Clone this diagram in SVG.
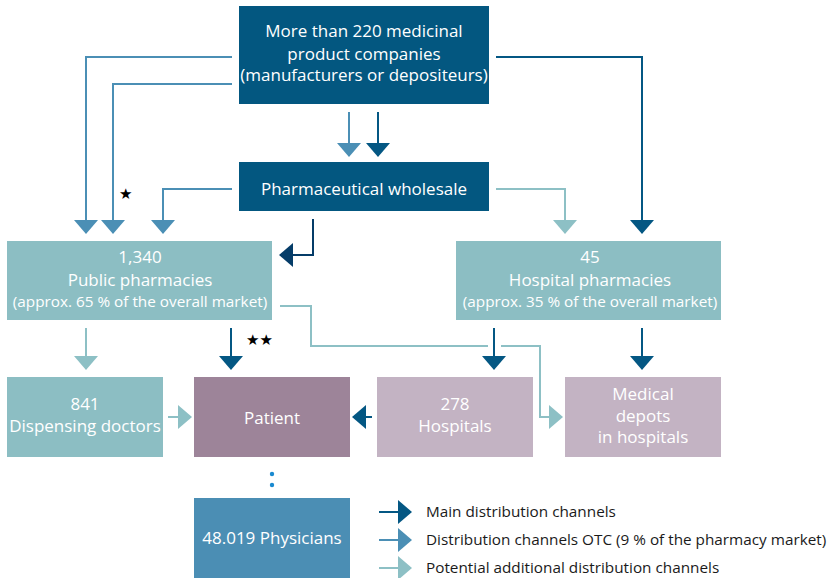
<svg xmlns="http://www.w3.org/2000/svg" width="830" height="578" viewBox="0 0 830 578">
<defs>
<style>
.t{font-family:"Open Sans","Liberation Sans",sans-serif;fill:#fff;text-anchor:middle;font-size:17px}
.s{font-size:15.3px}
.lg{font-family:"Open Sans","Liberation Sans",sans-serif;fill:#1a1a1a;font-size:15.3px}
.main{stroke:#045783;fill:none;stroke-width:2}
.otc{stroke:#4b8fb5;fill:none;stroke-width:2}
.pot{stroke:#8dc0c5;fill:none;stroke-width:2}
</style>
<marker id="hm" viewBox="0 0 14 24" refX="13" refY="12" markerWidth="14" markerHeight="24" markerUnits="userSpaceOnUse" orient="auto"><path d="M0,0L14,12L0,24Z" fill="#045783"/></marker>
<marker id="ho" viewBox="0 0 14 24" refX="13" refY="12" markerWidth="14" markerHeight="24" markerUnits="userSpaceOnUse" orient="auto"><path d="M0,0L14,12L0,24Z" fill="#4b8fb5"/></marker>
<marker id="hp" viewBox="0 0 14 24" refX="13" refY="12" markerWidth="14" markerHeight="24" markerUnits="userSpaceOnUse" orient="auto"><path d="M0,0L14,12L0,24Z" fill="#8dc0c5"/></marker>
<marker id="hn" viewBox="0 0 14 24" refX="13" refY="12" markerWidth="14" markerHeight="24" markerUnits="userSpaceOnUse" orient="auto"><path d="M0,0L14,12L0,24Z" fill="#053c68"/></marker>
</defs>
<rect width="830" height="578" fill="#fff"/>
<g id="connectors">
<path class="otc" d="M232,57H86V233" marker-end="url(#ho)"/>
<path class="otc" d="M232,84H113V233" marker-end="url(#ho)"/>
<path class="otc" d="M232,189H163V233" marker-end="url(#ho)"/>
<path class="main" d="M496,57H642V233" marker-end="url(#hm)"/>
<path class="pot" d="M496,189H565V233" marker-end="url(#hp)"/>
<path class="otc" d="M349,112V156" marker-end="url(#ho)"/>
<path class="main" d="M378,112V156" marker-end="url(#hm)"/>
<path d="M313,219V255H280" stroke="#053c68" stroke-width="2" fill="none" marker-end="url(#hn)"/>
<path class="pot" d="M86,328V369" marker-end="url(#hp)"/>
<path class="main" d="M231,328V369" marker-end="url(#hm)"/>
<path class="pot" d="M280,306H311V346H488M501,346H540V417H562" marker-end="url(#hp)"/>
<path class="main" d="M494,328V369" marker-end="url(#hm)"/>
<path class="main" d="M642,328V369" marker-end="url(#hm)"/>
<path class="pot" d="M168,417H191" marker-end="url(#hp)"/>
<path class="main" d="M372,417H353" marker-end="url(#hm)"/>
<circle cx="272" cy="474" r="2.2" fill="#1a8ad0"/>
<circle cx="272" cy="485" r="2.2" fill="#1a8ad0"/>
</g>
<g id="n-companies"><rect x="239" y="6" width="250" height="98" fill="#035780"/>
<text class="t" x="364" y="37">More than 220 medicinal</text>
<text class="t" x="364" y="60">product companies</text>
<text class="t" x="364" y="81">(manufacturers or depositeurs)</text></g>
<g id="n-wholesale"><rect x="239" y="162" width="250" height="49" fill="#035780"/>
<text class="t" x="364" y="195">Pharmaceutical wholesale</text></g>
<g id="n-public"><rect x="7" y="241" width="265" height="79" fill="#8cbec3"/>
<text class="t" x="140" y="263">1,340</text>
<text class="t" x="140" y="286">Public pharmacies</text>
<text class="t s" x="140" y="307">(approx. 65 % of the overall market)</text></g>
<g id="n-hospital-pharm"><rect x="456" y="241" width="265" height="79" fill="#8cbec3"/>
<text class="t" x="590" y="263">45</text>
<text class="t" x="590" y="286">Hospital pharmacies</text>
<text class="t s" x="590" y="307">(approx. 35 % of the overall market)</text></g>
<g id="n-doctors"><rect x="7" y="377" width="156" height="80" fill="#8cbec3"/>
<text class="t" x="85" y="410">841</text>
<text class="t" x="85" y="432">Dispensing doctors</text></g>
<g id="n-patient"><rect x="194" y="377" width="156" height="80" fill="#9d8499"/>
<text class="t" x="272" y="424">Patient</text></g>
<g id="n-hospitals"><rect x="377" y="377" width="156" height="80" fill="#c3b3c3"/>
<text class="t" x="455" y="410">278</text>
<text class="t" x="455" y="432">Hospitals</text></g>
<g id="n-depots"><rect x="565" y="377" width="156" height="80" fill="#c3b3c3"/>
<text class="t" x="643" y="400">Medical</text>
<text class="t" x="643" y="422">depots</text>
<text class="t" x="643" y="443">in hospitals</text></g>
<g id="n-physicians"><rect x="194" y="498" width="156" height="80" fill="#4b8eb4"/>
<text class="t" x="272" y="544">48.019 Physicians</text></g>
<g id="stars" font-family="DejaVu Sans,sans-serif" font-size="15" fill="#000">
<text x="119" y="199">★</text>
<text x="246" y="345">★★</text>
</g>
<g id="legend">
<path class="main" d="M379,512H411" marker-end="url(#hm)"/>
<path class="otc" d="M379,540H411" marker-end="url(#ho)"/>
<path class="pot" d="M379,568H411" marker-end="url(#hp)"/>
<text class="lg" x="426" y="517">Main distribution channels</text>
<text class="lg" x="426" y="545">Distribution channels OTC (9 % of the pharmacy market)</text>
<text class="lg" x="426" y="573">Potential additional distribution channels</text>
</g>
</svg>
